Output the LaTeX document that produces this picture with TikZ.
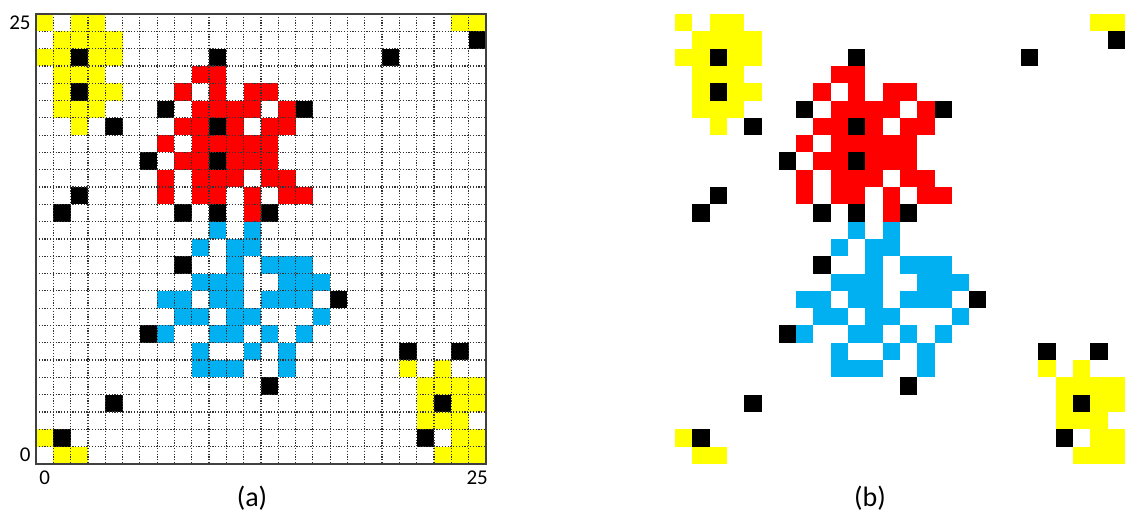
\documentclass[tikz,border=0pt]{standalone}
\usepackage{fontspec}
\setmainfont{Carlito}
\usepackage{tikz}
\usetikzlibrary{positioning}
\definecolor{pxYellow}{HTML}{FFFF00}
\definecolor{pxRed}{HTML}{FF0000}
\definecolor{pxBlue}{HTML}{00B0F0}
\definecolor{pxBlack}{HTML}{000000}
\definecolor{pxFrame}{HTML}{404040}
\newcommand{\cellsz}{17.3}
% occupied cells, row/{columns}, row 0 on top
\newcommand{\yellowRows}{0/{0,2,3,24,25},1/{1,2,3,4},2/{0,1,3,4},3/{1,2,3},4/{1,3,4},5/{1,2,3},6/{2},
  20/{21,23},21/{22,23,24,25},22/{22,24,25},23/{22,23,24},24/{0,24,25},25/{1,2,23,24,25}}
\newcommand{\redRows}{3/{9,10},4/{8,10,12,13},5/{9,10,11,12,14},6/{8,9,11,13,14},7/{7,9,10,11,12,13},
  8/{8,9,11,12,13},9/{7,9,10,11,13,14},10/{7,9,10,12,14,15},11/{12}}
\newcommand{\blueRows}{12/{10,12},13/{9,11,12},14/{11,13,14,15},15/{9,10,11,14,15,16},16/{7,8,10,11,13,14,15},
  17/{8,9,11,12,16},18/{7,10,11,13,15},19/{9,12,14},20/{9,10,11,14}}
\newcommand{\blackRows}{1/{25},2/{2,10,20},4/{2},5/{7,15},6/{4,10},8/{6,10},10/{2},11/{1,8,10,13},
  14/{8},16/{17},18/{6},19/{21,24},21/{13},22/{4,23},24/{1,22}}
\tikzset{
    % cells
    yellowCell/.style={fill=pxYellow},
    redCell/.style={fill=pxRed},
    blueCell/.style={fill=pxBlue},
    blackCell/.style={fill=pxBlack},
    % grid of panel (a)
    gridDots/.style={dash pattern=on 0.6pt off 0.8pt, line width=0.6pt, draw=black!80},
    gridFrame/.style={draw=pxFrame, line width=1.1pt},
    axisLabel/.style={font=\fontsize{10.5}{12}\selectfont, inner sep=1pt},
    panelLabel/.style={font=\fontsize{14}{16}\selectfont, inner sep=1pt}
}
\newcommand{\drawcells}[2]{%
  \foreach \ry/\cols in #2 {\foreach \cx in \cols {
    \fill[#1] (\cx*\cellsz,\ry*\cellsz) rectangle ++(\cellsz,\cellsz);}}}
\newcommand{\drawpattern}{%
  \drawcells{yellowCell}{\yellowRows}
  \drawcells{redCell}{\redRows}
  \drawcells{blueCell}{\blueRows}
  \drawcells{blackCell}{\blackRows}}
\begin{document}
\begin{tikzpicture}[x=0.5pt,y=-0.5pt]
\useasboundingbox (0,0) rectangle (1126,520);
% (a) with grid and axes
\begin{scope}[shift={(36,14)}]
  \drawpattern
  \foreach \i in {1,...,25} {
    \draw[gridDots] (\i*\cellsz,0) -- (\i*\cellsz,26*\cellsz);
    \draw[gridDots] (0,\i*\cellsz) -- (26*\cellsz,\i*\cellsz);
  }
  \draw[gridFrame] (0,0) rectangle (26*\cellsz,26*\cellsz);
  \node[axisLabel, anchor=east] (ytop) at (-3,0.5*\cellsz) {25};
  \node[axisLabel, anchor=east] (ybot) at (-3,25.5*\cellsz) {0};
  \node[axisLabel, anchor=north] (xlft) at (0.5*\cellsz,26*\cellsz+5) {0};
  \node[axisLabel, anchor=north] (xrgt) at (25.5*\cellsz,26*\cellsz+5) {25};
\end{scope}
% (b) plain
\begin{scope}[shift={(675,14)}]
  \drawpattern
\end{scope}
\node[panelLabel] (capA) at (252,498) {(a)};
\node[panelLabel] (capB) at (870,498) {(b)};
\end{tikzpicture}
\end{document}
